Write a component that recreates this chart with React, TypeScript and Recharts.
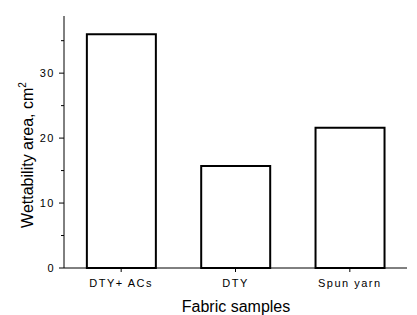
import { BarChart, Bar, XAxis, YAxis } from 'recharts';

const categories = ['DTY+ ACs', 'DTY', 'Spun yarn'];
const wettability = [36.0, 15.7, 21.6];
const yTicks = [0, 5, 10, 15, 20, 25, 30, 35];

const data = categories.map((name, i) => ({ name, value: wettability[i] }));

const FONT = '"Liberation Sans", Arial, sans-serif';

// left axis: long ticks with labels every 10, short minor ticks in between
const YTick = ({ x, y, payload }: any) => {
  const major = payload.value % 10 === 0;
  return (
    <g>
      <line x1={x - (major ? 5 : 3)} x2={x} y1={y} y2={y} stroke="#000" strokeWidth={1} />
      {major && (
        <text x={x - 9} y={y} dy="0.35em" textAnchor="end" fontSize={11} letterSpacing={1.5} fill="#000" fontFamily={FONT}>
          {payload.value}
        </text>
      )}
    </g>
  );
};

const YTitle = () => (
  <text transform="translate(33,155) rotate(-90)" textAnchor="middle" fontSize={16} fill="#000" fontFamily={FONT}>
    <tspan>Wettability area, cm</tspan>
    <tspan fontSize={10} dy={-7}>2</tspan>
  </text>
);

const XTitle = () => (
  <text x={236} y={312} textAnchor="middle" fontSize={16} fill="#000" fontFamily={FONT}>
    Fabric samples
  </text>
);

export default function App() {
  return (
    <div style={{ position: 'absolute', left: 0, top: 0, background: '#fff' }}>
      <BarChart
        width={417}
        height={315}
        data={data}
        margin={{ top: 16, right: 10, left: 0, bottom: 0 }}
        barCategoryGap="20%"
      >
        <XAxis
          dataKey="name"
          height={47}
          tickSize={4}
          tickMargin={7}
          stroke="#000"
          tick={{ fill: '#000', fontSize: 11, letterSpacing: 1.5, fontFamily: FONT }}
          label={{ content: <XTitle /> }}
        />
        <YAxis
          width={64}
          domain={[0, 38.8]}
          ticks={yTicks}
          interval={0}
          tickSize={0}
          tickMargin={0}
          tickLine={false}
          stroke="#000"
          tick={<YTick />}
          label={{ content: <YTitle /> }}
        />
        <Bar dataKey="value" fill="#fff" stroke="#000" strokeWidth={2} isAnimationActive={false} />
      </BarChart>
    </div>
  );
}
